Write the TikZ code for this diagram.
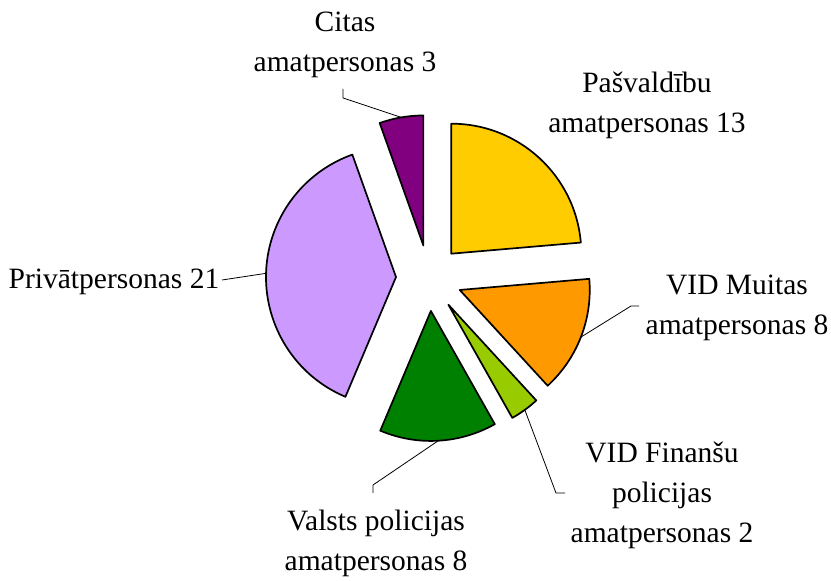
\documentclass[tikz,border=0pt]{standalone}
\usepackage{fontspec}
\setmainfont{Liberation Serif}
\usetikzlibrary{calc}
\definecolor{pasvcol}{HTML}{FFCC00}
\definecolor{muitcol}{HTML}{FF9900}
\definecolor{finacol}{HTML}{99CC00}
\definecolor{valscol}{HTML}{008000}
\definecolor{privcol}{HTML}{CC99FF}
\definecolor{citacol}{HTML}{800080}

\begin{document}
\begin{tikzpicture}[x=1pt,y=1pt,
  slice/.style={draw=black,line width=1.7pt,line join=round},
  leader/.style={draw=black,line width=0.8pt},
  lbl/.style={align=center,inner sep=0pt,anchor=base,font=\fontsize{29.5}{40}\selectfont}]
\useasboundingbox (0,0) rectangle (831,581);
\coordinate (C) at (429,303);

% slices, each pushed out 33 along its middle
\filldraw[slice,fill=pasvcol] ($(C)+(47.45:33)$) -- ++(90:130) arc[start angle=90,end angle=4.91,radius=130] -- cycle;
\filldraw[slice,fill=muitcol] ($(C)+(-21.27:33)$) -- ++(4.91:130) arc[start angle=4.91,end angle=-47.45,radius=130] -- cycle;
\filldraw[slice,fill=finacol] ($(C)+(-54:33)$) -- ++(-47.45:130) arc[start angle=-47.45,end angle=-60.55,radius=130] -- cycle;
\filldraw[slice,fill=valscol] ($(C)+(-86.73:33)$) -- ++(-60.55:130) arc[start angle=-60.55,end angle=-112.91,radius=130] -- cycle;
\filldraw[slice,fill=privcol] ($(C)+(-181.64:33)$) -- ++(-112.91:130) arc[start angle=-112.91,end angle=-250.36,radius=130] -- cycle;
\filldraw[slice,fill=citacol] ($(C)+(-260.18:33)$) -- ++(-250.36:130) arc[start angle=-250.36,end angle=-270,radius=130] -- cycle;

% middle of each outer arc
\path (C) ++(-21.27:163) coordinate (muit-m);
\path (C) ++(-54:163) coordinate (fina-m);
\path (C) ++(-86.73:163) coordinate (vals-m);
\path (C) ++(-181.64:163) coordinate (priv-m);
\path (C) ++(-260.18:163) coordinate (cita-m);

% labels (base = last line)
\node[lbl] (cita) at (345,509) {Citas\\amatpersonas 3};
\node[lbl] (pasv) at (647,448) {Pašvaldību\\amatpersonas 13};
\node[lbl] (muit) at (737,246) {VID Muitas\\amatpersonas 8};
\node[lbl] (fina) at (662,38) {VID Finanšu\\policijas\\amatpersonas 2};
\node[lbl] (vals) at (376,10) {Valsts policijas\\amatpersonas 8};
\node[lbl] (priv) at (114,292) {Privātpersonas 21};

% leader lines
\coordinate (cita-a) at (343,492);
\coordinate (cita-b) at (343,483);
\coordinate (muit-a) at (639,275);
\coordinate (muit-b) at (631,275);
\coordinate (fina-a) at (565,88);
\coordinate (fina-b) at (556,88);
\coordinate (vals-a) at (373,88);
\coordinate (vals-b) at (373,96);
\coordinate (priv-a) at (222,301);
\draw[leader] (cita-a) -- (cita-b) -- (cita-m);
\draw[leader] (muit-a) -- (muit-b) -- (muit-m);
\draw[leader] (fina-a) -- (fina-b) -- (fina-m);
\draw[leader] (vals-a) -- (vals-b) -- (vals-m);
\draw[leader] (priv-a) -- (priv-m);
\end{tikzpicture}
\end{document}
